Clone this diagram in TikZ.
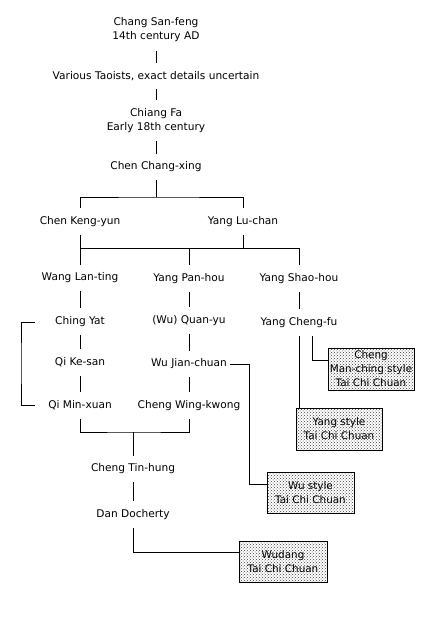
\documentclass[tikz,border=0pt]{standalone}
\usepackage{fontspec}
\setmainfont{DejaVu Sans}
\usetikzlibrary{patterns}
\begin{document}
\begin{tikzpicture}[x=1pt,y=-1pt,
  every path/.style={line width=0.9pt},
  nm/.style={font=\fontsize{10.6}{14}\selectfont, align=center, inner sep=3pt, minimum height=26pt},
  nm2/.style={nm, minimum height=41pt},
  stylebox/.style={draw, line width=0.9pt, pattern=crosshatch dots, pattern color=black!75,
     font=\fontsize{10.4}{14}\selectfont, align=center, inner sep=0pt,
     minimum width=86pt, minimum height=42pt}]
\fill[white] (0,0) rectangle (435,627);
\useasboundingbox (0,0) rectangle (435,627);
% people
\node[nm2] (csf) at (156,30) {Chang San-feng\\14th century AD};
\node[nm]  (vt)  at (156,76) {Various Taoists, exact details uncertain};
\node[nm2] (cf)  at (156,120.5) {Chiang Fa\\Early 18th century};
\node[nm]  (ccx) at (156,167) {Chen Chang-xing};
\node[nm]  (cky) at (80,221.5) {Chen Keng-yun};
\node[nm]  (ylc) at (243,221.5) {Yang Lu-chan};
\node[nm]  (wlt) at (80,278) {Wang Lan-ting};
\node[nm]  (yph) at (189,278.5) {Yang Pan-hou};
\node[nm]  (ysh) at (299,278.5) {Yang Shao-hou};
\node[nm]  (cy)  at (80,321.5) {Ching Yat};
\node[nm]  (qy)  at (189,320.5) {(Wu) Quan-yu};
\node[nm]  (ycf) at (299,322.5) {Yang Cheng-fu};
\node[nm]  (qks) at (80,362.5) {Qi Ke-san};
\node[nm]  (wjc) at (189,364) {Wu Jian-chuan};
\node[nm]  (qmx) at (80,405.5) {Qi Min-xuan};
\node[nm]  (cwk) at (189,405.5) {Cheng Wing-kwong};
\node[nm]  (cth) at (133,469) {Cheng Tin-hung};
\node[nm]  (dd)  at (133,514.5) {Dan Docherty};
% styles
\node[stylebox] (cmc) at (371,369) {Cheng\\Man-ching style\\Tai Chi Chuan};
\node[stylebox] (ys)  at (339,429) {Yang style\\Tai Chi Chuan};
\node[stylebox, minimum width=87pt, minimum height=41pt] (ws) at (310.5,492.5) {Wu style\\Tai Chi Chuan};
\node[stylebox, minimum width=88pt, minimum height=41pt] (wd) at (283,561.5) {Wudang\\Tai Chi Chuan};
% junction coordinates
\coordinate (j1) at (156,197);
\coordinate (j2) at (243,248);
\coordinate (j4) at (133,432);
\coordinate (brt) at (35,322);
\coordinate (brk) at (21,363);
\coordinate (brb) at (35,405);
\coordinate (wcorner) at (249,364);
% connectors
\draw (csf) -- (vt);
\draw (vt) -- (cf);
\draw (cf) -- (ccx);
\draw (ccx) -- (j1);
\draw (cky) |- (j1) -| (ylc);
\draw (cky) -- (wlt);
\draw (ylc) -- (j2);
\draw (wlt |- j2) -- (ysh |- j2) -- (ysh);
\draw (yph |- j2) -- (yph);
\draw (wlt) -- (cy);
\draw (cy) -- (qks);
\draw (qks) -- (qmx);
\draw (yph) -- (qy);
\draw (qy) -- (wjc);
\draw (wjc) -- (cwk);
\draw (ysh) -- (ycf);
\draw (brt) -| (brk) |- (brb);
\draw (qmx) |- (j4) -| (cwk);
\draw (j4) -- (cth);
\draw (cth) -- (dd);
\draw (dd) |- ([yshift=9.5pt]wd.west);
\draw (wjc) -- (wcorner) |- ([yshift=8.5pt]ws.west);
\draw (ycf.south) -- (ycf.south |- ys.north);
\draw ([xshift=13pt]ycf.south) |- ([yshift=9pt]cmc.west);
\end{tikzpicture}
\end{document}
